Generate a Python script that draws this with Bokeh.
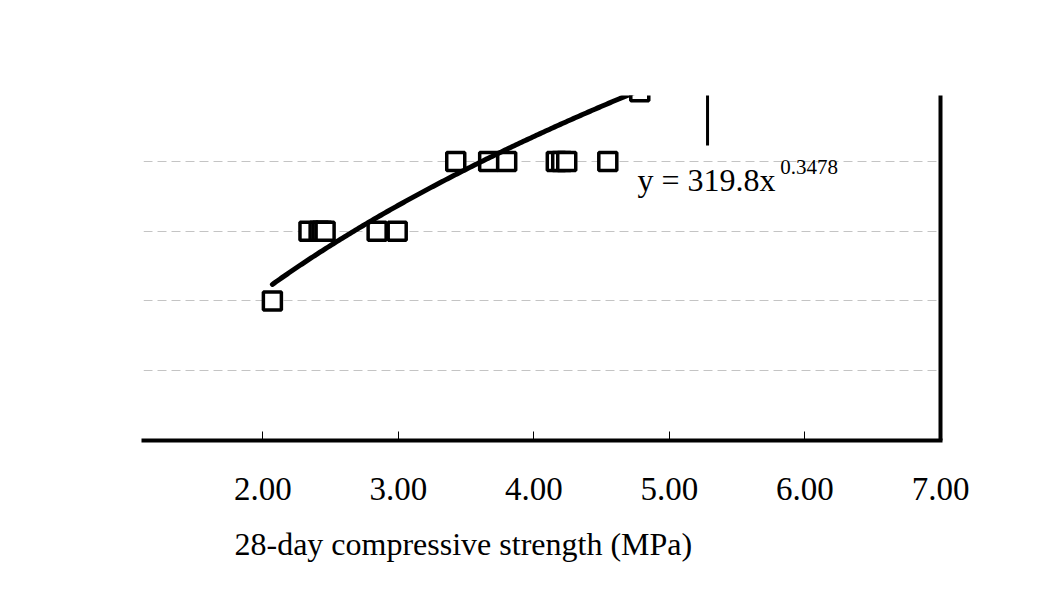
import numpy as np
from bokeh.plotting import figure
from bokeh.models import FixedTicker, NumeralTickFormatter, Label, ColumnDataSource
from bokeh.embed import file_html
from bokeh.resources import INLINE

# ---- data ----
strength_mpa = [2.07, 2.34, 2.415, 2.437, 2.459, 2.843, 2.991,
                3.423, 3.666, 3.799, 4.165, 4.205, 4.242, 4.545, 4.781]
response = [400, 450, 450, 450, 450, 450, 450,
            500, 500, 500, 500, 500, 500, 500, 550]
fit_a = 319.8
fit_b = 0.3478
x_ticks = [1, 2, 3, 4, 5, 6, 7]
y_grid = [300, 350, 400, 450, 500, 550]
stray_x = [5.281]
stray_y0 = [511.5]
stray_y1 = [560]

FONT = "Liberation Serif"

p = figure(frame_width=797, frame_height=345,
           min_border_left=143, min_border_top=95,
           min_border_right=80, min_border_bottom=140,
           x_range=(1.119, 7.0), y_range=(300, 547.3),
           y_axis_location="right",
           title="28-day compressive strength (MPa)", title_location="below",
           output_backend="svg", toolbar_location=None)
p.outline_line_color = None
p.background_fill_color = "white"
p.border_fill_color = "white"

# axis title (as below-title, offset like the original)
p.title.text_font = FONT
p.title.text_font_size = "32px"
p.title.text_font_style = "normal"
p.title.text_color = "black"
p.title.align = "left"
p.title.offset = 91
p.title.standoff = 43

# x axis
xa = p.xaxis[0]
xa.ticker = FixedTicker(ticks=x_ticks)
xa.formatter = NumeralTickFormatter(format="0.00")
xa.axis_line_width = 4
xa.axis_line_color = "black"
xa.axis_line_cap = "square"
xa.major_tick_in = 9
xa.major_tick_out = 0
xa.major_tick_line_width = 1
xa.major_tick_line_color = "black"
xa.minor_tick_line_color = None
xa.major_label_text_font = FONT
xa.major_label_text_font_size = "33px"
xa.major_label_text_color = "black"
xa.major_label_standoff = 37

# right axis (line only)
ya = p.yaxis[0]
ya.ticker = FixedTicker(ticks=y_grid)
ya.axis_line_width = 4
ya.axis_line_color = "black"
ya.major_tick_line_color = None
ya.minor_tick_line_color = None
ya.major_label_text_color = None
ya.major_label_text_font_size = "1px"

p.xgrid.grid_line_color = None
p.ygrid.grid_line_color = "#c4c4c4"
p.ygrid.grid_line_width = 1
p.ygrid.grid_line_dash = "9 5"

# markers
src = ColumnDataSource(dict(x=strength_mpa, y=response))
p.scatter("x", "y", source=src, marker="square", size=18,
          line_width=3.5, line_color="black", fill_color="white")

# power trend line
xf = np.linspace(min(strength_mpa), max(strength_mpa), 200)
yf = fit_a * xf ** fit_b
p.line(xf, yf, line_width=5, line_color="black", line_cap="round")

# stray vertical mark
p.segment(x0=stray_x, y0=stray_y0, x1=stray_x, y1=stray_y1,
          line_width=3, line_color="black")

# equation
p.add_layout(Label(x=4.764, y=486.6, text="y = 319.8x",
                   text_font=FONT, text_font_size="32px",
                   text_color="black", text_baseline="alphabetic"))
p.add_layout(Label(x=5.817, y=496.4, text="0.3478",
                   text_font=FONT, text_font_size="21px",
                   text_color="black", text_baseline="alphabetic"))

open("out.html", "w").write(file_html(p, INLINE))
